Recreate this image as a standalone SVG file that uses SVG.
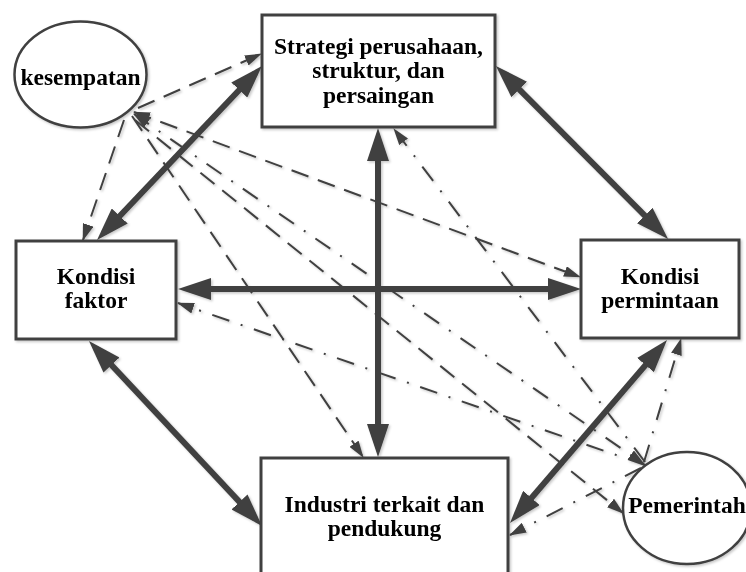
<svg xmlns="http://www.w3.org/2000/svg" width="746" height="572" viewBox="0 0 746 572">
<defs>
<filter id="sh" x="-10%" y="-10%" width="130%" height="130%">
<feDropShadow dx="1.5" dy="1.5" stdDeviation="1" flood-color="#000" flood-opacity="0.22"/>
</filter>
<marker id="big" markerUnits="userSpaceOnUse" viewBox="0 0 33 22" markerWidth="33" markerHeight="22" refX="23" refY="11" orient="auto-start-reverse">
<path d="M0,0 L33,11 L0,22 z" fill="#404040"/>
</marker>
<marker id="sm" markerUnits="userSpaceOnUse" viewBox="0 0 17 11" markerWidth="17" markerHeight="11" refX="16" refY="5.5" orient="auto-start-reverse">
<path d="M0,0 L17,5.5 L0,11 z" fill="#404040"/>
</marker>
<style>
.box{fill:#fff;stroke:#404040;stroke-width:3}
.ell{fill:#fff;stroke:#404040;stroke-width:2.5}
.t{font-family:"Liberation Serif","Times New Roman",serif;font-weight:bold;font-size:23.5px;fill:#000;text-anchor:middle}
.thick{stroke:#404040;stroke-width:6;fill:none;marker-start:url(#big);marker-end:url(#big)}
.dash{stroke:#404040;stroke-width:2;fill:none;stroke-dasharray:18 10;marker-end:url(#sm)}
.dd{stroke:#404040;stroke-width:2;fill:none;stroke-dasharray:18 12 2 12;marker-end:url(#sm)}
.both{marker-start:url(#sm)}
</style>
</defs>
<g filter="url(#sh)">
<g id="kesempatan">
<ellipse class="ell" cx="80.5" cy="74.5" rx="66" ry="53"/>
<text class="t" x="80.5" y="85">kesempatan</text>
</g>
<g id="strategi">
<rect class="box" x="262" y="15" width="233" height="112"/>
<text class="t" x="378.5" y="53.5">Strategi perusahaan,</text>
<text class="t" x="378.5" y="78">struktur, dan</text>
<text class="t" x="378.5" y="102.5">persaingan</text>
</g>
<g id="faktor">
<rect class="box" x="16" y="241" width="160" height="98"/>
<text class="t" x="96" y="284">Kondisi</text>
<text class="t" x="96" y="308">faktor</text>
</g>
<g id="permintaan">
<rect class="box" x="581" y="240" width="158" height="98"/>
<text class="t" x="660" y="284">Kondisi</text>
<text class="t" x="660" y="308">permintaan</text>
</g>
<g id="industri">
<rect class="box" x="261" y="458" width="247" height="130"/>
<text class="t" x="384.5" y="512">Industri terkait dan</text>
<text class="t" x="384.5" y="536">pendukung</text>
</g>
<g id="pemerintah">
<ellipse class="ell" cx="687" cy="508" rx="64" ry="56"/>
<text class="t" x="687" y="513">Pemerintah</text>
</g>
<g id="connectors">
<line class="thick" x1="255.1" y1="73.3" x2="103.9" y2="232.7"/>
<line class="thick" x1="503" y1="73.1" x2="661" y2="231.9"/>
<line class="thick" x1="378" y1="138" x2="378" y2="447"/>
<line class="thick" x1="188" y1="289" x2="571" y2="289"/>
<line class="thick" x1="95.8" y1="348.3" x2="255.2" y2="518.7"/>
<line class="thick" x1="660.5" y1="347.6" x2="516.5" y2="515.4"/>
<line class="dash" x1="138" y1="108" x2="261" y2="54"/>
<line class="dash" x1="124" y1="120" x2="83" y2="240"/>
<line class="dash both" x1="134" y1="112" x2="580" y2="277"/>
<line class="dash" x1="132" y1="116" x2="363" y2="457"/>
<line class="dash" x1="135" y1="120" x2="623" y2="513"/>
<line class="dd both" x1="134" y1="114" x2="644" y2="464"/>
<line class="dd" x1="645" y1="462" x2="394" y2="129"/>
<line class="dd" x1="645" y1="465" x2="178" y2="303"/>
<line class="dd" x1="644" y1="462" x2="681" y2="339"/>
<line class="dd" x1="641" y1="468" x2="510" y2="535"/>
</g>
</g>
</svg>
